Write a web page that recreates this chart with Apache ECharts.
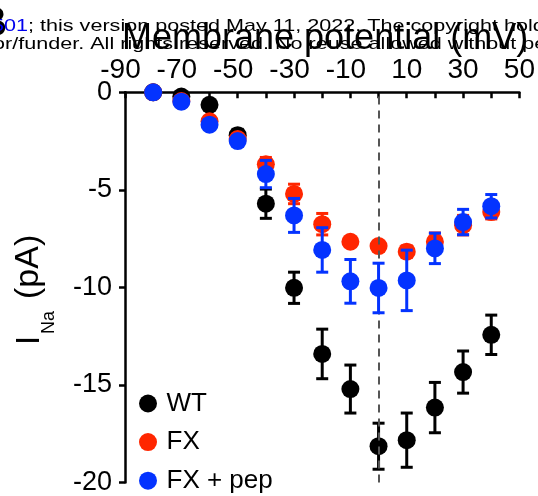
<!DOCTYPE html>
<html lang="en">
<head>
    <meta charset="UTF-8"/>
    <title>INa vs membrane potential</title>
    <script src="https://cdn.jsdelivr.net/npm/echarts@6/dist/echarts.min.js"></script>
    <style>
        html, body { margin: 0; padding: 0; background: #fff; }
        #chart { width: 538px; height: 496px; }
    </style>
</head>
<body>
<div id="chart"></div>
<script type="text/javascript">
    // 数据：测试电压 (mV) 与各组电流均值 / 误差 (pA)
    var voltages = [-80, -70, -60, -50, -40, -30, -20, -10, 0, 10, 20, 30, 40];
    var wtMean  = [0, -0.22, -0.64, -2.2, -5.71, -10.02, -13.41, -15.21, -18.14, -17.83, -16.16, -14.34, -12.43];
    var wtErr   = [0, 0.1, 0.15, 0.3, 0.75, 0.8, 1.27, 1.23, 1.18, 1.39, 1.29, 1.08, 1.01];
    var fxMean  = [0, -0.45, -1.49, -2.4, -3.69, -5.21, -6.76, -7.66, -7.88, -8.17, -7.66, -6.81, -6.14];
    var fxErr   = [0, 0.1, 0.15, 0.2, 0.35, 0.5, 0.55, 0.2, 0.2, 0.3, 0.45, 0.5, 0.35];
    var pepMean = [0, -0.48, -1.66, -2.5, -4.19, -6.31, -8.08, -9.69, -10.03, -9.64, -8.0, -6.65, -5.84];
    var pepErr  = [0, 0.1, 0.15, 0.2, 0.7, 0.87, 1.14, 1.12, 1.27, 1.55, 0.78, 0.65, 0.6];
    var xTicks  = [-90, -70, -50, -30, -10, 10, 30, 50];
    var yTicks  = [0, -5, -10, -15, -20];

    var FONT = 'Liberation Sans, Arial, Helvetica, sans-serif';

    function points(mean) {
        return voltages.map(function (v, i) { return [v, mean[i]]; });
    }
    function bars(mean, err) {
        return voltages.map(function (v, i) { return [v, mean[i], err[i]]; });
    }
    // 误差棒
    function errorSeries(name, mean, err, color, z) {
        return {
            name: name + ' err',
            type: 'custom',
            z: z,
            silent: true,
            data: bars(mean, err),
            renderItem: function (params, api) {
                var x = api.value(0), m = api.value(1), e = api.value(2);
                if (!e) return null;
                var hi = api.coord([x, m + e]);
                var lo = api.coord([x, m - e]);
                var cap = 6;
                var st = {stroke: color, lineWidth: 3};
                return {
                    type: 'group',
                    children: [
                        {type: 'line', shape: {x1: hi[0], y1: hi[1], x2: lo[0], y2: lo[1]}, style: st},
                        {type: 'line', shape: {x1: hi[0] - cap, y1: hi[1], x2: hi[0] + cap, y2: hi[1]}, style: st},
                        {type: 'line', shape: {x1: lo[0] - cap, y1: lo[1], x2: lo[0] + cap, y2: lo[1]}, style: st}
                    ]
                };
            }
        };
    }

    var myChart = echarts.init(document.getElementById('chart'), null, {renderer: 'canvas'});
    var option = {
        animation: false,
        backgroundColor: '#fff',
        grid: {left: 125, right: 17.5, top: 92.3, bottom: 9.4, containLabel: false},
        legend: {
            data: ['WT', 'FX', 'FX + pep'],
            orient: 'vertical',
            left: 139,
            top: 390.5,
            height: 150,
            padding: 0,
            icon: 'circle',
            itemWidth: 27,
            itemHeight: 18,
            itemGap: 12.6,
            textStyle: {fontSize: 26, fontFamily: FONT, color: '#000', lineHeight: 18}
        },
        xAxis: {
            type: 'value',
            position: 'top',
            min: -90,
            max: 50,
            interval: 10,
            splitLine: {show: false},
            axisLine: {onZero: false, lineStyle: {color: '#000', width: 2.5}},
            axisTick: {inside: true, length: 6, lineStyle: {color: '#000', width: 2.5}},
            axisLabel: {
                margin: 8,
                fontSize: 28,
                fontFamily: FONT,
                color: '#000',
                formatter: function (v) {
                    if (xTicks.indexOf(v) < 0) return '';
                    return v < 0 ? '{n|' + v + '}' : String(v);
                },
                rich: {n: {fontSize: 28, fontFamily: FONT, color: '#000', padding: [0, 9, 0, 0]}}
            }
        },
        yAxis: {
            type: 'value',
            min: -20,
            max: 0,
            interval: 5,
            splitLine: {show: false},
            axisLine: {onZero: false, lineStyle: {color: '#000', width: 2.5}},
            axisTick: {length: 6, lineStyle: {color: '#000', width: 2.5}},
            axisLabel: {
                margin: 13,
                fontSize: 27,
                fontFamily: FONT,
                color: '#000',
                formatter: function (v) { return yTicks.indexOf(v) < 0 ? '' : String(v); }
            }
        },
        graphic: [
            {type: 'text', x: 7, y: 24, style: {text: 'B', fill: '#000', font: 'bold 42px ' + FONT, align: 'right', verticalAlign: 'middle'}},
            {type: 'text', x: -8, y: 26, scaleX: 1.27, style: {
                text: '{b|501}; this version posted May 11, 2022. The copyright holder for this preprint',
                fill: '#000', font: '17px ' + FONT, verticalAlign: 'middle',
                rich: {b: {fill: '#0000ee', font: '17px ' + FONT}}
            }},
            {type: 'text', x: -7, y: 44.5, scaleX: 1.27, style: {
                text: 'or/funder. All rights reserved. No reuse allowed without permission.',
                fill: '#000', font: '17px ' + FONT, verticalAlign: 'middle'
            }},
            {type: 'text', x: 122, y: 39, style: {
                text: 'Membrane potential (mV)', fill: '#000', font: '36px ' + FONT, verticalAlign: 'middle'
            }},
            {
                type: 'group', x: 46, y: 345, rotation: Math.PI / 2,
                children: [
                    {type: 'text', x: 0, y: 0, style: {text: 'I', fill: '#000', font: '33px ' + FONT, verticalAlign: 'bottom'}},
                    {type: 'text', x: 11, y: 12, style: {text: 'Na', fill: '#000', font: '18px ' + FONT, verticalAlign: 'bottom'}},
                    {type: 'text', x: 46, y: 0, style: {text: '(pA)', fill: '#000', font: '34px ' + FONT, verticalAlign: 'bottom'}}
                ]
            }
        ],
        series: [
            errorSeries('WT', wtMean, wtErr, '#000000', 1),
            {
                name: 'WT', type: 'scatter', z: 2, symbol: 'circle', symbolSize: 18,
                itemStyle: {color: '#000000', opacity: 1},
                data: points(wtMean),
                markLine: {
                    silent: true, symbol: 'none', label: {show: false},
                    lineStyle: {color: '#555', width: 2, type: [8, 6]},
                    data: [{xAxis: 0}]
                }
            },
            errorSeries('FX', fxMean, fxErr, '#ff2600', 3),
            {
                name: 'FX', type: 'scatter', z: 4, symbol: 'circle', symbolSize: 18,
                itemStyle: {color: '#ff2600', opacity: 1},
                data: points(fxMean)
            },
            errorSeries('FX + pep', pepMean, pepErr, '#0433ff', 5),
            {
                name: 'FX + pep', type: 'scatter', z: 6, symbol: 'circle', symbolSize: 18,
                itemStyle: {color: '#0433ff', opacity: 1},
                data: points(pepMean)
            }
        ]
    };
    myChart.setOption(option);
</script>
</body>
</html>
